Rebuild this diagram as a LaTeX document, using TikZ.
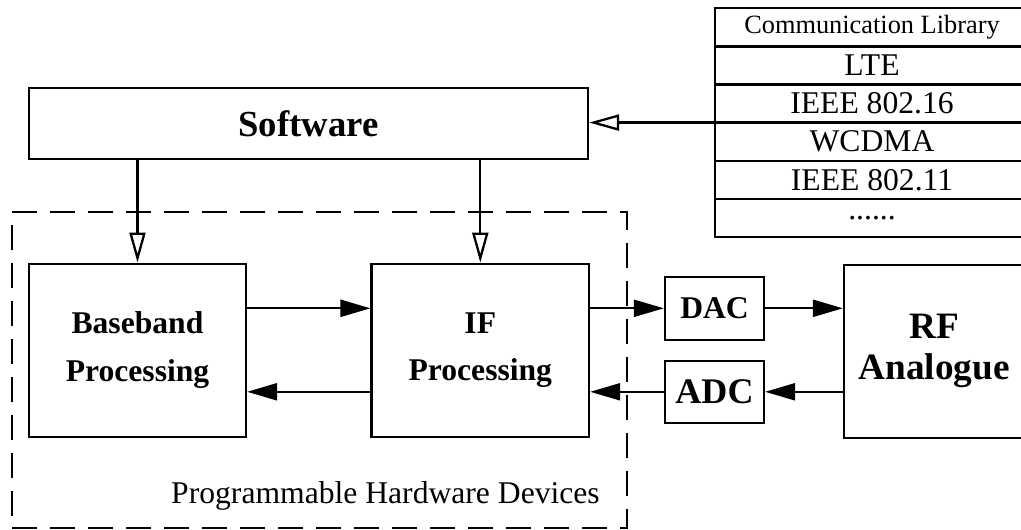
\documentclass[tikz,border=0pt]{standalone}
\usepackage{fontspec}
\setmainfont{Liberation Serif}
\usetikzlibrary{positioning,arrows.meta}

\begin{document}
\begin{tikzpicture}[
	x=0.02cm,y=-0.02cm,line width=1.3pt,
	every node/.style={inner sep=0},
	blk/.style={draw,align=center,font=\fontsize{18}{27}\selectfont\bfseries},
	librow/.style={draw,outer sep=0,minimum width=6.28cm,minimum height=0.762cm,font=\fontsize{18}{20}\selectfont},
	fwd/.style={-{Triangle[length=0.6cm,width=0.34cm]}},
	ctl/.style={-{Triangle[open,length=0.6cm,width=0.32cm]}},
]
\useasboundingbox (0,0) rectangle (1021,530);
\node[blk,minimum width=11.18cm,minimum height=1.408cm,font=\fontsize{20.9}{24}\selectfont\bfseries] (sw) at (308.5,123.5) {Software};
\node[draw,dash pattern=on 0.5cm off 0.26cm,minimum width=12.294cm,minimum height=6.314cm] (phd) at (319.35,369.85) {};
\node[anchor=base,font=\fontsize{18}{20}\selectfont] (phdlbl) at (385.5,503) {Programmable Hardware Devices};
\node[blk,minimum width=4.34cm,minimum height=3.46cm] (bb) at (137.5,350.2) {Baseband\\Processing};
\node[blk,minimum width=4.35cm,minimum height=3.46cm] (ifp) at (480.3,350.2) {IF\\Processing};
\node[blk,minimum width=1.98cm,minimum height=1.254cm] (dac) at (714.5,308.3) {DAC};
\node[blk,minimum width=1.98cm,minimum height=1.234cm,font=\fontsize{20.5}{24}\selectfont\bfseries] (adc) at (714.5,391.8) {ADC};
\node[blk,minimum width=3.6cm,minimum height=3.46cm,font=\fontsize{21.2}{23.3}\selectfont\bfseries] (rf) at (934,351.2) {RF\\Analogue};

\node[librow,font=\fontsize{15}{18}\selectfont] (lib0) at (872,27.35) {Communication Library};
\node[librow,below=0pt of lib0] (lib1) {LTE};
\node[librow,below=0pt of lib1] (lib2) {IEEE 802.16};
\node[librow,below=0pt of lib2] (lib3) {WCDMA};
\node[librow,below=0pt of lib3] (lib4) {IEEE 802.11};
\node[librow,below=0pt of lib4] (lib5) {......};

\draw[ctl] (sw.south -| bb.north) -- (bb.north);
\draw[ctl] (sw.south -| ifp.north) -- (ifp.north);
\draw[ctl] (lib2.south west) -- (sw.east |- lib2.south west);
\draw[fwd] (bb.east |- dac) -- (ifp.west |- dac);
\draw[fwd] (ifp.west |- adc) -- (bb.east |- adc);
\draw[fwd] (ifp.east |- dac) -- (dac.west);
\draw[fwd] (dac.east) -- (rf.west |- dac);
\draw[fwd] (rf.west |- adc) -- (adc.east);
\draw[fwd] (adc.west) -- (ifp.east |- adc);
\end{tikzpicture}
\end{document}
